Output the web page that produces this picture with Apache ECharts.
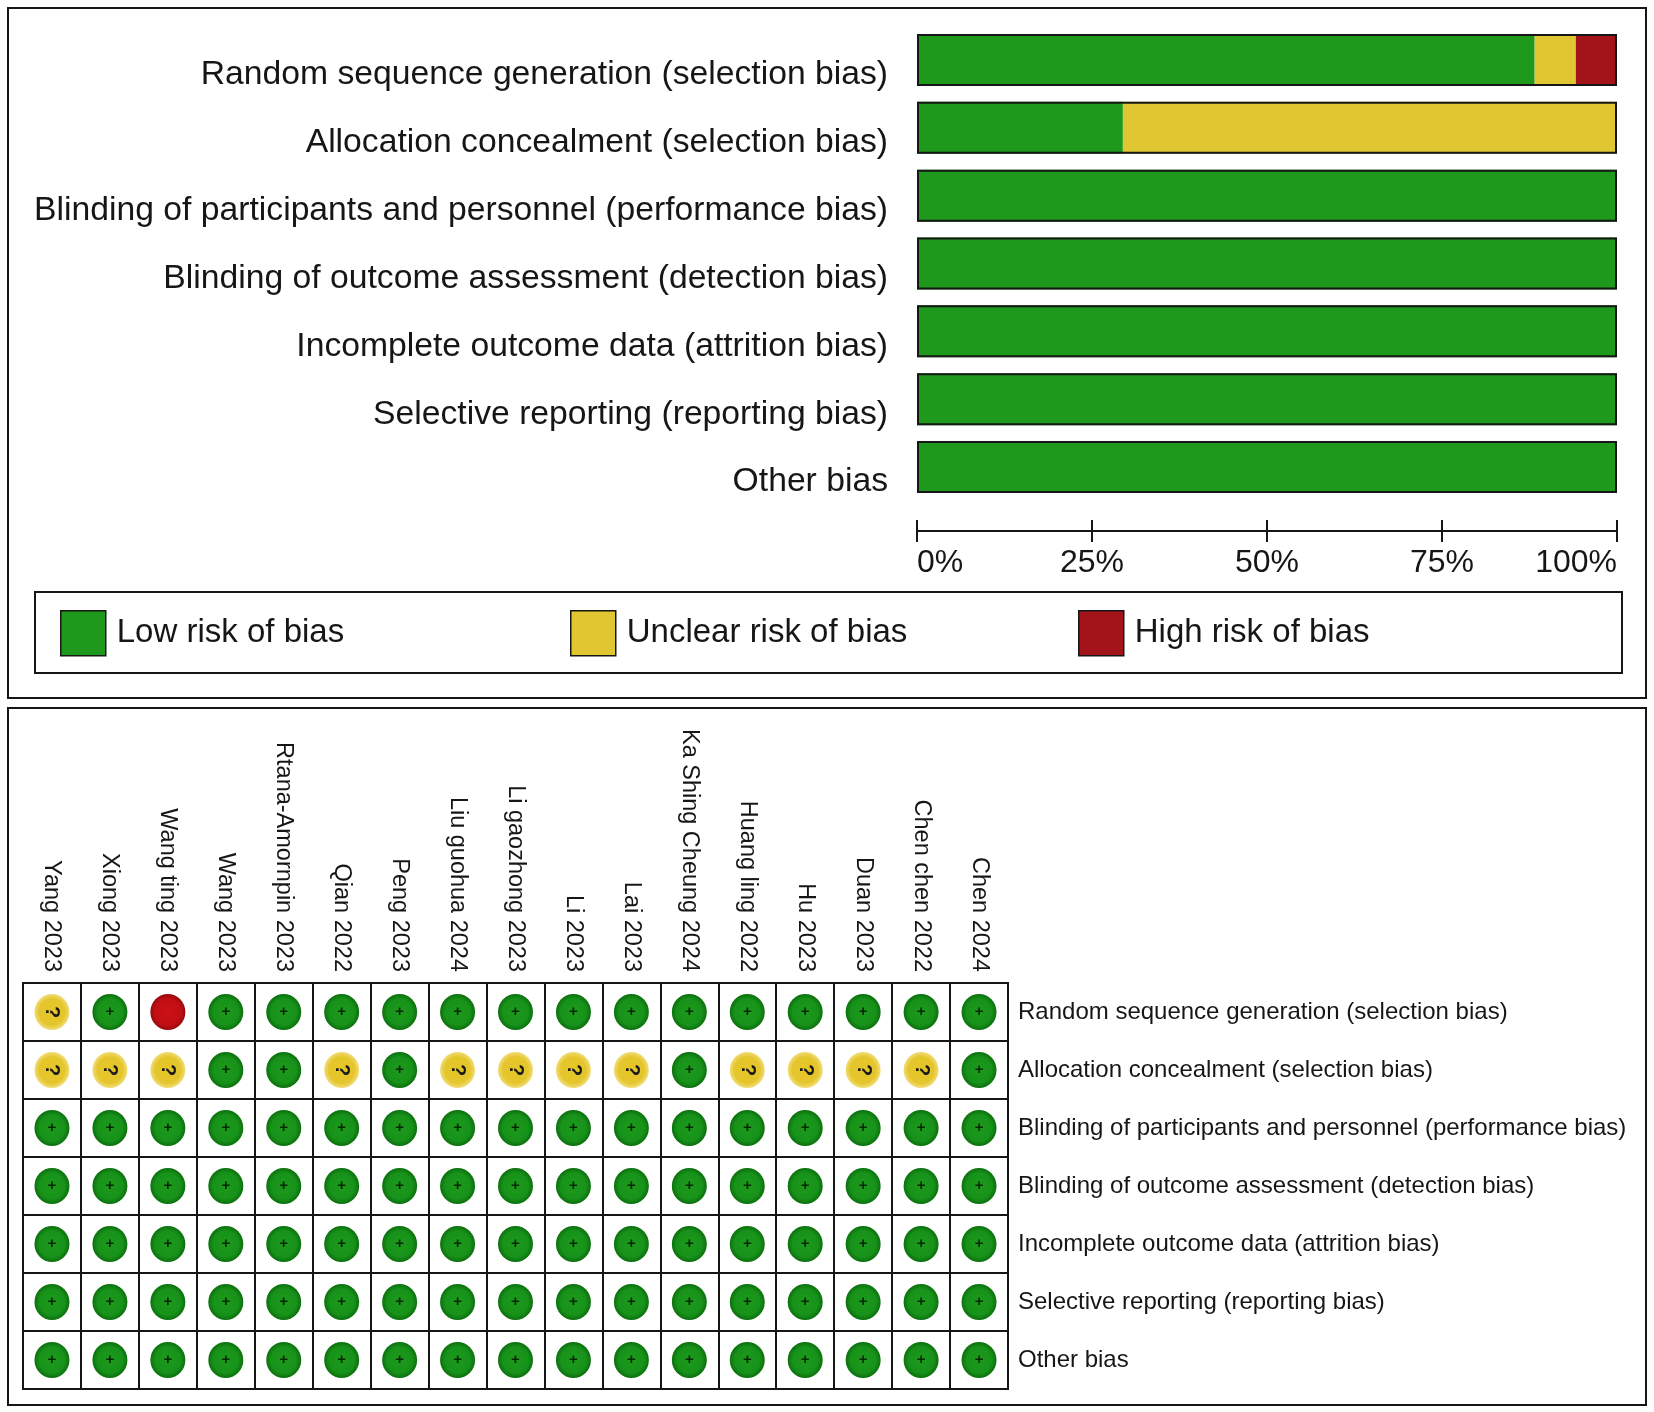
<!DOCTYPE html>
<html>
<head>
<meta charset="utf-8">
<script src="https://cdn.jsdelivr.net/npm/echarts@6/dist/echarts.min.js"></script>
<style>
  html, body { margin: 0; padding: 0; background: #fff; }
  #main { width: 1654px; height: 1412px; }
</style>
</head>
<body>
<div id="main"></div>
<script>
// risk of bias domains, top to bottom
const domains = [
    'Random sequence generation (selection bias)',
    'Allocation concealment (selection bias)',
    'Blinding of participants and personnel (performance bias)',
    'Blinding of outcome assessment (detection bias)',
    'Incomplete outcome data (attrition bias)',
    'Selective reporting (reporting bias)',
    'Other bias'
];

const studies = [
    'Yang 2023', 'Xiong 2023', 'Wang ting 2023', 'Wang 2023', 'Rtana-Amornpin 2023',
    'Qian 2022', 'Peng 2023', 'Liu guohua 2024', 'Li gaozhong 2023', 'Li 2023',
    'Lai 2023', 'Ka Shing Cheung 2024', 'Huang ling 2022', 'Hu 2023', 'Duan 2023',
    'Chen chen 2022', 'Chen 2024'
];

// one row per domain, one letter per study: L = low, U = unclear, H = high
const judgements = [
    ['U','L','H','L','L','L','L','L','L','L','L','L','L','L','L','L','L'],
    ['U','U','U','L','L','U','L','U','U','U','U','L','U','U','U','U','L'],
    ['L','L','L','L','L','L','L','L','L','L','L','L','L','L','L','L','L'],
    ['L','L','L','L','L','L','L','L','L','L','L','L','L','L','L','L','L'],
    ['L','L','L','L','L','L','L','L','L','L','L','L','L','L','L','L','L'],
    ['L','L','L','L','L','L','L','L','L','L','L','L','L','L','L','L','L'],
    ['L','L','L','L','L','L','L','L','L','L','L','L','L','L','L','L','L']
];

const levels = ['L', 'U', 'H'];
const levelNames = ['Low risk of bias', 'Unclear risk of bias', 'High risk of bias'];
const percentTicks = ['0%', '25%', '50%', '75%', '100%'];

const barColors = { L: '#1f991c', U: '#e0c731', H: '#a3131a' };
const FONT = "'Liberation Sans', Arial, sans-serif";

function pct(level) {
    return judgements.map(row => row.filter(j => j === level).length / studies.length * 100);
}

const dotColors = {
    L: { type: 'radial', x: 0.5, y: 0.5, r: 0.5, colorStops: [
        { offset: 0, color: '#1c9a1c' }, { offset: 0.72, color: '#18921a' }, { offset: 1, color: '#0b700d' }] },
    U: { type: 'radial', x: 0.5, y: 0.5, r: 0.5, colorStops: [
        { offset: 0, color: '#e6c627' }, { offset: 0.72, color: '#e4c52c' }, { offset: 1, color: '#f1dd78' }] },
    H: { type: 'radial', x: 0.5, y: 0.5, r: 0.5, colorStops: [
        { offset: 0, color: '#cc1116' }, { offset: 0.75, color: '#c00f14' }, { offset: 1, color: '#950a0e' }] }
};
const dotGlyph = { L: '+', U: '?', H: '' };

function dots(level) {
    const out = [];
    judgements.forEach((row, r) => {
        row.forEach((j, c) => { if (j === level) out.push([c, r]); });
    });
    return out;
}

const chart = echarts.init(document.getElementById('main'));

const series = [];
levels.forEach((lv, i) => {
    series.push({
        name: levelNames[i],
        type: 'bar',
        stack: 'total',
        xAxisIndex: 0,
        yAxisIndex: 0,
        barWidth: 52,
        itemStyle: { color: barColors[lv] },
        data: pct(lv),
        silent: true
    });
});
// black outline round each whole bar
series.push({
    name: 'outline',
    type: 'bar',
    xAxisIndex: 0,
    yAxisIndex: 0,
    barWidth: 52,
    barGap: '-100%',
    z: 5,
    itemStyle: { color: 'transparent', borderColor: '#161616', borderWidth: 2 },
    data: domains.map(() => 100),
    silent: true
});
levels.forEach((lv, i) => {
    series.push({
        name: 'dot ' + levelNames[i],
        type: 'scatter',
        xAxisIndex: 2,
        yAxisIndex: 1,
        symbol: 'circle',
        symbolSize: [35, 36],
        itemStyle: { color: dotColors[lv], opacity: 1 },
        label: {
            show: true,
            position: 'inside',
            formatter: dotGlyph[lv],
            color: lv === 'L' ? '#062806' : '#1a1a1a',
            fontSize: lv === 'L' ? 15 : 20,
            fontWeight: 'bold',
            fontFamily: FONT,
            rotate: lv === 'U' ? -90 : 0
        },
        data: dots(lv),
        silent: true
    });
});

// one legend per level so each key sits where the reference puts it
const legendLefts = [60, 570, 1078];
const legends = levelNames.map((name, i) => ({
    data: [name],
    left: legendLefts[i],
    top: 610,
    padding: 0,
    icon: 'rect',
    itemWidth: 45,
    itemHeight: 45,
    itemStyle: { borderColor: '#161616', borderWidth: 1.5 },
    textStyle: { fontSize: 33, color: '#161616', fontFamily: FONT, padding: [2, 0, 0, 6] },
    selectedMode: false
}));

const valueAxisBase = {
    type: 'value',
    gridIndex: 0,
    min: 0,
    max: 100,
    interval: 25,
    position: 'bottom',
    offset: 30,
    splitLine: { show: false },
    axisLine: { show: true, lineStyle: { color: '#161616', width: 2 } }
};

chart.setOption({
    backgroundColor: '#fff',
    animation: false,
    textStyle: { fontFamily: FONT },
    graphic: [
        { type: 'rect', shape: { x: 8, y: 8, width: 1638, height: 690 },
          style: { fill: 'none', stroke: '#161616', lineWidth: 2 } },
        { type: 'rect', shape: { x: 35, y: 592, width: 1587, height: 81 },
          style: { fill: 'none', stroke: '#161616', lineWidth: 2 } },
        { type: 'rect', shape: { x: 8, y: 708, width: 1638, height: 697 },
          style: { fill: 'none', stroke: '#161616', lineWidth: 2 } }
    ],
    legend: legends,
    grid: [
        { left: 917, width: 700, top: 26, height: 475 },
        { left: 23, width: 985, top: 983, height: 406, show: true, borderColor: '#161616', borderWidth: 2 }
    ],
    xAxis: [
        Object.assign({}, valueAxisBase, {
            axisTick: { show: true, inside: false, length: 11, lineStyle: { color: '#161616', width: 2 } },
            axisLabel: {
                show: true, fontSize: 32, color: '#161616', margin: 16, fontFamily: FONT,
                alignMinLabel: 'left', alignMaxLabel: 'right',
                formatter: v => percentTicks[v / 25]
            }
        }),
        Object.assign({}, valueAxisBase, {
            axisTick: { show: true, inside: true, length: 11, lineStyle: { color: '#161616', width: 2 } },
            axisLabel: { show: false }
        }),
        {
            type: 'category',
            gridIndex: 1,
            position: 'top',
            data: studies,
            axisLine: { show: false },
            axisTick: { show: false },
            axisLabel: {
                interval: 0, rotate: 90, fontSize: 23.5, color: '#161616', margin: 11, fontFamily: FONT
            },
            splitLine: { show: true, interval: 0, lineStyle: { color: '#161616', width: 2 } }
        }
    ],
    yAxis: [
        {
            type: 'category',
            gridIndex: 0,
            inverse: true,
            data: domains,
            axisLine: { show: false },
            axisTick: { show: false },
            axisLabel: {
                fontSize: 33.7, color: '#161616', margin: 29, fontFamily: FONT,
                verticalAlign: 'top', lineHeight: 30
            }
        },
        {
            type: 'category',
            gridIndex: 1,
            inverse: true,
            position: 'right',
            data: domains,
            axisLine: { show: false },
            axisTick: { show: false },
            axisLabel: { fontSize: 24, color: '#161616', margin: 10, fontFamily: FONT },
            splitLine: { show: true, interval: 0, lineStyle: { color: '#161616', width: 2 } }
        }
    ],
    series: series
});
</script>
</body>
</html>
